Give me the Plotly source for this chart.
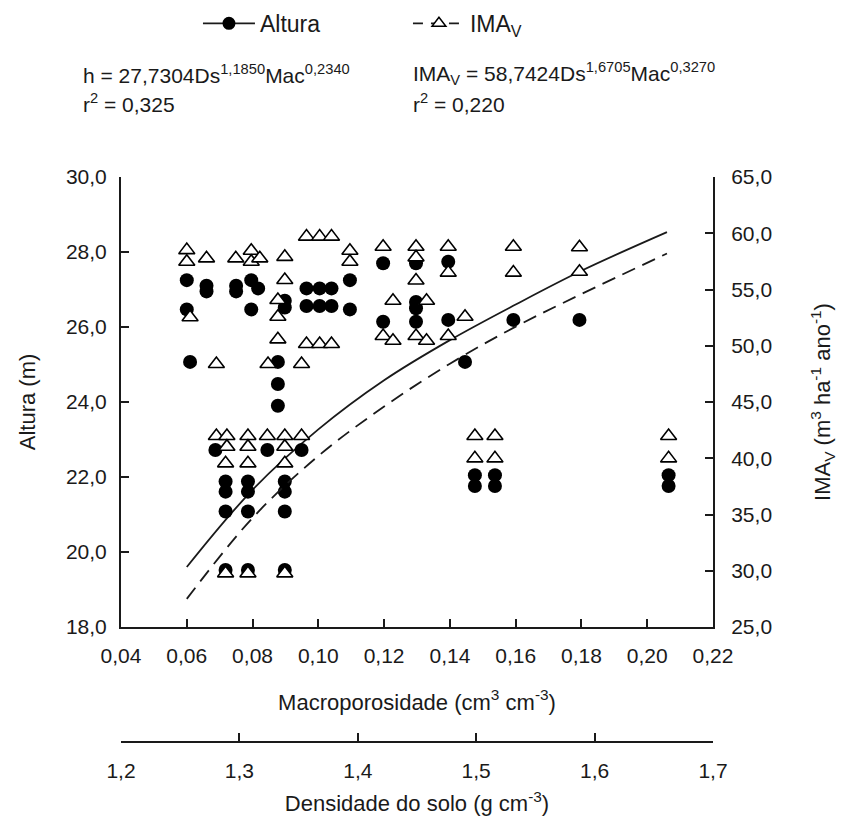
import plotly.graph_objects as go

# ---- data ----
mac_h = [0.060, 0.060, 0.061, 0.066, 0.066, 0.075, 0.075, 0.0796, 0.0796, 0.0817,
         0.0898, 0.0898, 0.0964, 0.1004, 0.104, 0.0964, 0.1004, 0.104, 0.1096, 0.1096,
         0.0877, 0.0877, 0.0877, 0.0687, 0.0845, 0.0949,
         0.0718, 0.0718, 0.0718, 0.0718, 0.0786, 0.0786, 0.0786, 0.0786,
         0.0898, 0.0898, 0.0898, 0.0898,
         0.1197, 0.1197, 0.1297, 0.1297, 0.1297, 0.1297, 0.1395, 0.1395,
         0.1446, 0.1593, 0.1794, 0.1476, 0.1476, 0.1537, 0.1537, 0.2065, 0.2065]
altura = [27.25, 26.47, 25.07, 27.10, 26.95, 27.10, 26.95, 27.25, 26.47, 27.03,
          26.70, 26.52, 27.03, 27.03, 27.03, 26.56, 26.56, 26.56, 27.25, 26.47,
          25.07, 24.48, 23.90, 22.72, 22.72, 22.72,
          21.88, 21.61, 21.08, 19.52, 21.88, 21.61, 21.08, 19.52,
          21.88, 21.61, 21.08, 19.52,
          27.70, 26.14, 27.70, 26.67, 26.50, 26.14, 27.74, 26.19,
          25.07, 26.19, 26.19, 22.05, 21.76, 22.05, 21.76, 22.05, 21.76]

mac_v = [0.060, 0.060, 0.061, 0.066, 0.0749, 0.0796, 0.0796, 0.0822,
         0.0898, 0.0898, 0.0877, 0.0877, 0.0877,
         0.0964, 0.1004, 0.104, 0.0964, 0.1004, 0.104, 0.1096, 0.1096,
         0.069, 0.0847, 0.0949,
         0.069, 0.0722, 0.0786, 0.0845, 0.0898, 0.0949,
         0.0722, 0.0786, 0.0898, 0.0718, 0.0786, 0.0898, 0.0718, 0.0786, 0.0898,
         0.1197, 0.1297, 0.1395, 0.1593, 0.1794, 0.1297, 0.1297,
         0.1395, 0.1593, 0.1794, 0.1227, 0.1329,
         0.1197, 0.1227, 0.1297, 0.1329, 0.1395, 0.1446,
         0.1476, 0.1476, 0.1537, 0.1537, 0.2065, 0.2065]
imav = [58.50, 57.47, 52.53, 57.77, 57.77, 58.45, 57.47, 57.77,
        57.90, 55.84, 54.07, 52.58, 50.57,
        59.70, 59.70, 59.70, 50.16, 50.16, 50.16, 58.45, 57.47,
        48.38, 48.38, 48.38,
        41.98, 41.98, 41.98, 41.98, 41.98, 41.98,
        41.03, 41.03, 41.03, 39.55, 39.55, 39.55, 29.77, 29.77, 29.77,
        58.80, 58.80, 58.80, 58.80, 58.75, 57.86, 55.80,
        56.50, 56.50, 56.58, 54.00, 54.00,
        50.87, 50.45, 50.87, 50.45, 50.87, 52.58,
        41.98, 39.99, 41.98, 39.99, 41.98, 39.99]

# fitted curves
mac_fit = [0.06, 0.08, 0.10, 0.12, 0.14, 0.16, 0.18, 0.206]
h_fit = [19.60, 21.66, 23.27, 24.58, 25.65, 26.60, 27.50, 28.53]
v_fit = [27.50, 34.70, 40.20, 44.60, 48.40, 51.70, 54.60, 58.20]

dens_range = [1.2, 1.7]

FONT = "Liberation Sans"
FS_TICK = 21
FS_TITLE = 22
FS_EQ = 21
INK = "#1a1a1a"

fig = go.Figure()

fig.add_trace(go.Scatter(x=mac_fit, y=h_fit, mode="lines", line=dict(color=INK, width=1.8, shape="spline"),
                         showlegend=False, xaxis="x", yaxis="y"))
fig.add_trace(go.Scatter(x=mac_fit, y=v_fit, mode="lines",
                         line=dict(color=INK, width=1.8, shape="spline", dash="14px,8px"),
                         showlegend=False, xaxis="x", yaxis="y2"))
fig.add_trace(go.Scatter(x=mac_h, y=altura, mode="markers",
                         marker=dict(symbol="circle", size=14, color="black"),
                         showlegend=False, xaxis="x", yaxis="y"))
fig.add_trace(go.Scatter(x=mac_v, y=imav, mode="markers",
                         marker=dict(symbol="triangle-up", size=14, color="white",
                                     line=dict(color="black", width=1.6)),
                         showlegend=False, xaxis="x", yaxis="y2"))
# legend entries
fig.add_trace(go.Scatter(x=[None], y=[None], mode="lines+markers", name="Altura",
                         line=dict(color=INK, width=1.8),
                         marker=dict(symbol="circle", size=13, color="black"), xaxis="x", yaxis="y"))
fig.add_trace(go.Scatter(x=[None], y=[None], mode="lines+markers", name="IMA<sub>V</sub>",
                         line=dict(color=INK, width=1.8, dash="10px,8px"),
                         marker=dict(symbol="triangle-up", size=12, color="white",
                                     line=dict(color="black", width=1.5)), xaxis="x", yaxis="y2"))
# density axis holder
fig.add_trace(go.Scatter(x=dens_range, y=[None, None], mode="markers", showlegend=False,
                         xaxis="x3", yaxis="y", hoverinfo="skip"))

axis_common = dict(showline=True, linewidth=2, linecolor=INK, ticks="inside", ticklen=8,
                   tickwidth=1.5, tickcolor=INK, showgrid=False, zeroline=False, automargin=False,
                   tickfont=dict(family=FONT, size=FS_TICK, color=INK))
title_font = dict(family=FONT, size=FS_TITLE, color=INK)

fig.update_layout(
    width=845, height=816,
    margin=dict(l=121, r=132, t=177, b=74, autoexpand=False),
    paper_bgcolor="white", plot_bgcolor="white",
    separators=",.",
    font=dict(family=FONT, size=FS_TICK, color=INK),
    xaxis=dict(range=[0.04, 0.22], dtick=0.02, tick0=0.04, tickformat=".2f", anchor="y",
               ticklabelstandoff=9,
               title=dict(text="Macroporosidade (cm<sup>3</sup> cm<sup>-3</sup>)", standoff=28,
                          font=title_font),
               **axis_common),
    xaxis3=dict(range=dens_range, dtick=0.1, tick0=1.2, tickformat=".1f", overlaying="x",
                anchor="free", position=0, side="bottom", ticklabelstandoff=10,
                title=dict(text="Densidade do solo (g cm<sup>-3</sup>)", standoff=14, font=title_font),
                **axis_common),
    yaxis=dict(range=[18, 30], dtick=2, tick0=18, tickformat=".1f", domain=[0.2035, 1],
               anchor="x", ticklabelstandoff=8,
               title=dict(text="Altura (m)", standoff=24, font=title_font),
               **axis_common),
    yaxis2=dict(range=[25, 65], dtick=5, tick0=25, tickformat=".1f", overlaying="y", side="right",
                anchor="x", ticklabelstandoff=12,
                title=dict(text="IMA<sub>V</sub> (m<sup>3</sup> ha<sup>-1</sup> ano<sup>-1</sup>)",
                           standoff=44, font=title_font),
                **axis_common),
    legend=dict(orientation="h", x=0.13, y=1.31, xanchor="left", yanchor="top",
                font=dict(family=FONT, size=23, color=INK), itemwidth=52,
                entrywidth=143, entrywidthmode="pixels", bgcolor="rgba(0,0,0,0)"),
    showlegend=True,
)

fig.add_annotation(text="h = 27,7304Ds<sup>1,1850</sup>Mac<sup>0,2340</sup>", xref="paper", yref="paper",
                   x=-0.068, y=1.183, xanchor="left", yanchor="middle", showarrow=False,
                   font=dict(family=FONT, size=FS_EQ, color=INK))
fig.add_annotation(text="r<sup>2</sup> = 0,325", xref="paper", yref="paper",
                   x=-0.068, y=1.131, xanchor="left", yanchor="middle", showarrow=False,
                   font=dict(family=FONT, size=FS_EQ, color=INK))
fig.add_annotation(text="IMA<sub>V</sub> = 58,7424Ds<sup>1,6705</sup>Mac<sup>0,3270</sup>", xref="paper",
                   yref="paper", x=0.49, y=1.183, xanchor="left", yanchor="middle", showarrow=False,
                   font=dict(family=FONT, size=FS_EQ, color=INK))
fig.add_annotation(text="r<sup>2</sup> = 0,220", xref="paper", yref="paper",
                   x=0.49, y=1.131, xanchor="left", yanchor="middle", showarrow=False,
                   font=dict(family=FONT, size=FS_EQ, color=INK))

fig.write_html("out.html")
